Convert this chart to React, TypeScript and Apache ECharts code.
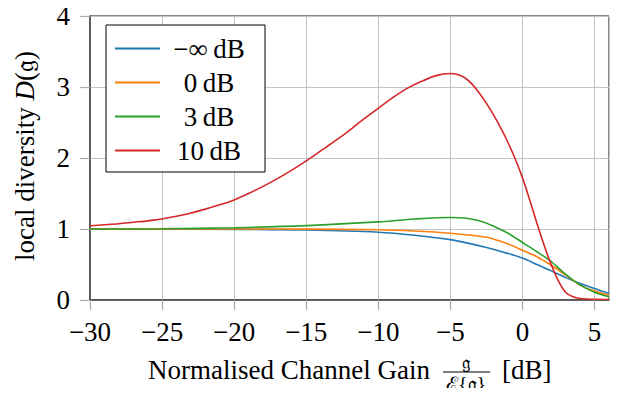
import React, { useEffect, useRef } from "react";
import * as echarts from "echarts";

const seriesNames = ["−∞\u2009dB", "0\u2009dB", "3\u2009dB", "10\u2009dB"];
const seriesColors = ["#1f77b4", "#ff7f0e", "#2ca02c", "#d62728"];

const blueX = [-30, -25, -20, -15, -10, -7.5, -5, -2.5, -1, 0, 1, 2, 3, 4, 5, 6];
const blueY = [1.0, 1.0, 0.995, 0.985, 0.955, 0.913, 0.85, 0.74, 0.655, 0.59, 0.5, 0.41, 0.315, 0.232, 0.162, 0.092];

const orangeX = [-30, -25, -20, -15, -10, -7.5, -5, -2.5, -1, 0, 1, 2, 3, 4, 5, 6];
const orangeY = [1.0, 1.0, 1.0, 0.998, 0.99, 0.972, 0.94, 0.885, 0.79, 0.7, 0.61, 0.49, 0.35, 0.21, 0.125, 0.066];

const greenX = [-30, -25, -20, -15, -10, -7.5, -5, -4, -3, -2, -1, 0, 1, 2, 3, 4, 5, 6];
const greenY = [1.0, 1.003, 1.018, 1.048, 1.1, 1.14, 1.163, 1.155, 1.115, 1.04, 0.94, 0.81, 0.68, 0.54, 0.36, 0.21, 0.11, 0.045];

const redX = [
  -30, -29, -28, -27, -26, -25, -24, -23, -22, -21, -20, -19, -18, -17, -16, -15, -14, -13, -12, -11, -10,
  -9, -8, -7, -6, -5, -4.5, -4, -3.5, -3, -2.5, -2, -1.5, -1, -0.5, 0, 0.5, 1, 1.5, 2, 2.5, 3, 3.5, 4, 5, 6,
];
const redY = [
  1.046, 1.06, 1.075, 1.095, 1.115, 1.14, 1.18, 1.225, 1.28, 1.34, 1.41, 1.5, 1.6, 1.71, 1.83, 1.96, 2.1, 2.24, 2.39, 2.55, 2.7,
  2.85, 2.98, 3.08, 3.16, 3.19, 3.175, 3.13, 3.04, 2.915, 2.77, 2.605, 2.42, 2.215, 1.985, 1.72, 1.41, 1.08, 0.77, 0.495, 0.265, 0.105, 0.045, 0.022, 0.01, 0.008,
];

const xTicks = { min: -30, max: 6, interval: 5 };
const yTicks = { min: 0, max: 4, interval: 1 };

const FONT = "Liberation Serif";

function pairs(xs: number[], ys: number[]) {
  return xs.map((x, i) => [x, ys[i]]);
}

export default function App() {
  const ref = useRef<HTMLDivElement>(null);
  useEffect(() => {
    if (!ref.current) return;
    const chart = echarts.init(ref.current, null, { renderer: "svg" });
    const data = [pairs(blueX, blueY), pairs(orangeX, orangeY), pairs(greenX, greenY), pairs(redX, redY)];
    const fmt = (v: number) => (v < 0 ? "−" + Math.abs(v) : String(v));
    chart.setOption({
      animation: false,
      backgroundColor: "#fff",
      textStyle: { fontFamily: FONT },
      grid: {
        left: 90,
        right: 9,
        top: 16,
        bottom: 96,
        show: true,
        borderColor: "#111",
        borderWidth: 1,
        backgroundColor: "transparent",
      },
      xAxis: {
        type: "value",
        min: xTicks.min,
        max: xTicks.max,
        interval: xTicks.interval,
        axisLine: { show: true, onZero: false, lineStyle: { color: "#444", width: 1.5 } },
        axisTick: { show: true, inside: false, length: 10, lineStyle: { color: "#aaa", width: 1.2 } },
        axisLabel: {
          formatter: fmt,
          fontFamily: FONT,
          fontSize: 27,
          color: "#000",
          margin: 18,
          showMaxLabel: false,
        },
        splitLine: { show: true, lineStyle: { color: "#c4c4c4", width: 1 } },
      },
      yAxis: {
        type: "value",
        min: yTicks.min,
        max: yTicks.max,
        interval: yTicks.interval,
        axisLine: { show: true, onZero: false, lineStyle: { color: "#444", width: 1.5 } },
        axisTick: { show: true, inside: false, length: 10, lineStyle: { color: "#aaa", width: 1.2 } },
        axisLabel: {
          formatter: fmt,
          fontFamily: FONT,
          fontSize: 27,
          color: "#000",
          margin: 20,
        },
        splitLine: { show: true, lineStyle: { color: "#c4c4c4", width: 1 } },
      },
      legend: {
        show: true,
        orient: "vertical",
        left: 106,
        top: 25,
        padding: [10, 12, 8, 9],
        itemGap: 7,
        itemWidth: 45,
        itemHeight: 2,
        icon: "rect",
        borderColor: "#000",
        borderWidth: 1,
        borderRadius: 0,
        backgroundColor: "#fff",
        data: seriesNames,
        formatter: (name: string) => "{c|" + name + "}",
        textStyle: {
          fontFamily: FONT,
          fontSize: 27,
          color: "#000",
          rich: {
            c: { width: 88, align: "center", fontFamily: FONT, fontSize: 27, lineHeight: 26, color: "#000" },
          },
        },
      },
      series: data.map((d, i) => ({
        name: seriesNames[i],
        type: "line",
        data: d,
        smooth: 0.3,
        symbol: "none",
        showSymbol: false,
        lineStyle: { color: seriesColors[i], width: 1.6 },
        itemStyle: { color: seriesColors[i] },
        z: 3,
      })),
      graphic: [
        {
          type: "text",
          x: 25,
          y: 156,
          rotation: Math.PI / 2,
          style: {
            text: "local diversity {i|D}(𝔤)",
            fontFamily: FONT,
            fontSize: 27,
            fill: "#000",
            align: "center",
            verticalAlign: "middle",
            rich: {
              i: { fontStyle: "italic", fontFamily: FONT, fontSize: 27, fill: "#000" },
            },
          },
        },
        {
          type: "text",
          x: 148,
          y: 370,
          style: {
            text: "Normalised Channel Gain",
            fontFamily: FONT,
            fontSize: 27,
            fill: "#000",
            align: "left",
            verticalAlign: "middle",
          },
        },
        {
          type: "text",
          x: 466,
          y: 362,
          style: { text: "𝔤", fontFamily: FONT, fontSize: 19, fill: "#000", align: "center", verticalAlign: "middle" },
        },
        {
          type: "line",
          shape: { x1: 443, y1: 372, x2: 490, y2: 372 },
          style: { stroke: "#000", lineWidth: 1.2 },
        },
        {
          type: "text",
          x: 466,
          y: 384,
          style: { text: "ℰ{𝔤}", fontFamily: FONT, fontSize: 20, fill: "#000", align: "center", verticalAlign: "middle" },
        },
        {
          type: "text",
          x: 502,
          y: 370,
          style: { text: "[dB]", fontFamily: FONT, fontSize: 27, fill: "#000", align: "left", verticalAlign: "middle" },
        },
      ],
    });
    return () => chart.dispose();
  }, []);
  return <div ref={ref} style={{ width: 618, height: 396, margin: -8 }} />;
}
